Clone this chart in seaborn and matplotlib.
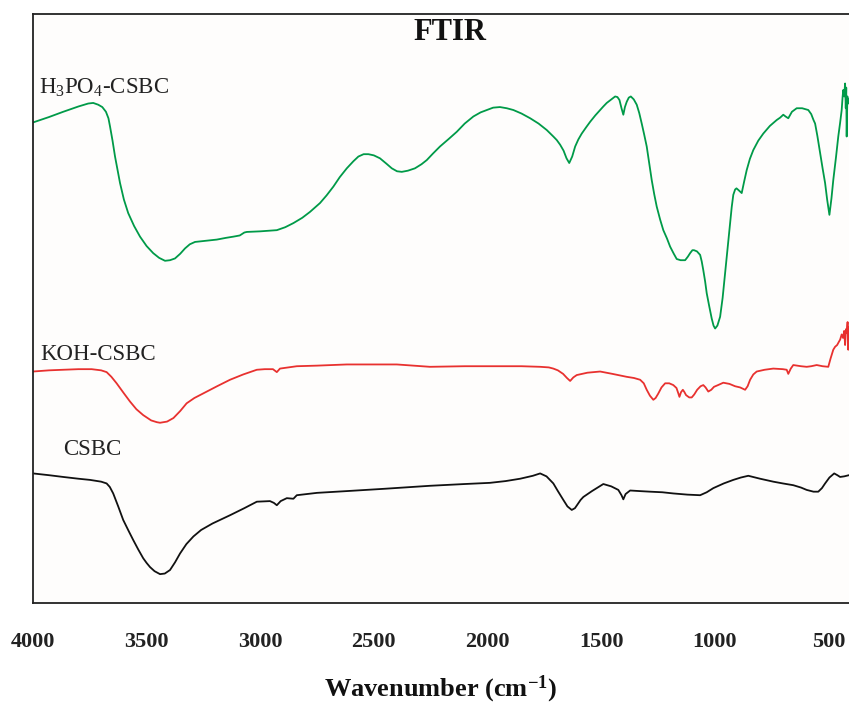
import numpy as np
import pandas as pd
import seaborn as sns
import matplotlib.pyplot as plt

# ---- FTIR spectra (transmittance, arbitrary units, curves offset vertically) ----
h3po4_wn = [3999, 3930, 3867, 3800, 3757, 3735, 3713, 3695, 3679, 3668, 3661, 3650,
            3639, 3617, 3600, 3581, 3555, 3529, 3500, 3471, 3445, 3419, 3397, 3375,
            3352, 3331, 3310, 3287, 3240, 3191, 3150, 3118, 3090, 3070, 3059, 3000,
            2927, 2890, 2854, 2815, 2781, 2737, 2708, 2678, 2650, 2619, 2590, 2568,
            2545, 2524, 2500, 2473, 2445, 2421, 2398, 2377, 2350, 2319, 2290, 2267,
            2240, 2209, 2170, 2135, 2100, 2062, 2030, 2003, 1975, 1945, 1915, 1886,
            1850, 1812, 1775, 1739, 1710, 1695, 1680, 1665, 1652, 1640, 1627, 1614,
            1600, 1585, 1565, 1548, 1525, 1504, 1490, 1475, 1455, 1438, 1428, 1419,
            1410, 1402, 1395, 1387, 1378, 1369, 1356, 1343, 1332, 1321, 1310, 1299,
            1288, 1277, 1266, 1255, 1240, 1226, 1210, 1196, 1180, 1167, 1150, 1130,
            1118, 1108, 1098, 1091, 1078, 1064, 1057, 1050, 1042, 1035, 1024, 1013,
            1005, 998, 988, 976, 965, 954, 943, 932, 925, 918, 910, 904, 895, 881,
            870, 859, 845, 830, 808, 786, 757, 727, 712, 698, 688, 676, 660, 639,
            615, 588, 575, 565, 558, 548, 536, 525, 514, 505, 495, 486, 478, 466,
            456, 448, 441, 437, 434, 430, 426, 423, 421, 419, 416, 412, 409]
h3po4_t = [81.6, 82.5, 83.4, 84.3, 84.8, 84.9, 84.6, 84.2, 83.4, 82.3, 80.9, 78.5,
           75.8, 71.3, 68.5, 66.2, 64.0, 62.2, 60.6, 59.4, 58.6, 58.1, 58.2, 58.5,
           59.3, 60.2, 60.9, 61.3, 61.5, 61.7, 62.0, 62.2, 62.4, 62.9, 63.0, 63.1,
           63.3, 63.8, 64.5, 65.4, 66.4, 67.9, 69.2, 70.7, 72.3, 73.8, 75.0, 75.8,
           76.2, 76.2, 76.0, 75.5, 74.6, 73.8, 73.3, 73.2, 73.4, 73.8, 74.5, 75.2,
           76.3, 77.5, 78.8, 80.0, 81.4, 82.6, 83.3, 83.7, 84.1, 84.2, 84.0, 83.7,
           83.1, 82.3, 81.4, 80.3, 79.2, 78.6, 77.8, 76.8, 75.5, 74.7, 75.8, 77.5,
           78.7, 79.7, 80.8, 81.7, 82.8, 83.7, 84.3, 84.9, 85.5, 86.0, 85.9, 85.4,
           84.0, 82.9, 84.2, 85.1, 85.8, 86.0, 85.5, 84.6, 83.2, 81.4, 79.5, 77.5,
           74.7, 71.8, 69.4, 67.3, 65.1, 63.3, 61.9, 60.5, 59.3, 58.4, 58.2, 58.2,
           58.8, 59.4, 59.9, 59.9, 59.7, 59.1, 58.0, 56.5, 54.6, 52.6, 50.4, 48.3,
           47.1, 46.6, 47.1, 48.6, 51.8, 56.0, 60.3, 64.5, 67.2, 69.3, 70.2, 70.4, 70.1, 69.6,
           71.6, 73.5, 75.4, 76.9, 78.5, 79.7, 81.0, 82.0, 82.4, 82.9, 82.6, 82.3, 83.4, 84.0,
           84.0, 83.7, 83.0, 82.0, 81.4, 79.3, 76.4, 73.8, 71.3, 68.5, 65.9, 68.7, 71.8, 75.7,
           79.2, 81.5, 83.7, 85.9, 87.1, 86.0, 88.2, 84.0, 87.5, 79.2, 86.0, 84.8, 85.5]

koh_wn = [4000, 3930, 3867, 3800, 3742, 3700, 3676, 3655, 3632, 3600, 3573, 3545,
          3515, 3480, 3455, 3441, 3410, 3382, 3352, 3324, 3290, 3250, 3190, 3133,
          3075, 3015, 2980, 2944, 2927, 2913, 2839, 2750, 2619, 2500, 2399, 2253,
          2100, 1989, 1850, 1768, 1730, 1710, 1690, 1667, 1650, 1636, 1622, 1607,
          1560, 1504, 1450, 1387, 1355, 1328, 1312, 1299, 1285, 1270, 1260, 1249,
          1234, 1218, 1200, 1182, 1168, 1160, 1155, 1148, 1140, 1133, 1126, 1112,
          1101, 1090, 1077, 1062, 1050, 1040, 1028, 1015, 1003, 985, 962, 935, 910,
          888, 866, 855, 844, 830, 815, 780, 742, 700, 683, 676, 665, 654, 620, 595,
          575, 551, 525, 500, 490, 478, 470, 461, 454, 448, 441, 435, 430, 426, 422,
          419, 415, 412, 409]
koh_t = [39.3, 39.5, 39.6, 39.7, 39.7, 39.5, 39.2, 38.4, 37.3, 35.6, 34.2, 32.9,
         31.9, 31.0, 30.7, 30.6, 30.8, 31.4, 32.6, 33.9, 34.8, 35.6, 36.8, 37.9,
         38.8, 39.6, 39.7, 39.7, 39.2, 39.8, 40.2, 40.3, 40.5, 40.5, 40.5, 40.1,
         40.2, 40.2, 40.2, 40.1, 40.0, 39.8, 39.5, 38.9, 38.2, 37.7, 38.3, 38.7,
         39.1, 39.3, 38.9, 38.4, 38.2, 37.9, 37.3, 36.2, 35.2, 34.5, 34.8, 35.5,
         36.6, 37.3, 37.3, 37.0, 36.5, 35.6, 35.0, 35.8, 36.2, 35.8, 35.3, 34.9,
         34.9, 35.4, 36.2, 36.8, 37.0, 36.6, 35.9, 36.2, 36.7, 37.0, 37.4, 37.2, 36.8,
         36.6, 36.2, 36.8, 37.9, 38.8, 39.3, 39.6, 39.8, 39.7, 39.6, 38.9, 39.8, 40.4, 40.2, 40.1,
         40.2, 40.4, 40.2, 40.1, 41.5, 43.0, 43.5, 43.8, 44.3, 44.7, 45.6, 45.0, 46.2, 43.8, 46.5,
         45.8, 47.7, 43.0, 46.9]

csbc_wn = [4000, 3930, 3867, 3800, 3749, 3700, 3676, 3662, 3647, 3625, 3603, 3580,
           3559, 3537, 3515, 3500, 3485, 3465, 3441, 3420, 3397, 3375, 3353, 3325,
           3294, 3260, 3210, 3133, 3070, 3015, 2957, 2940, 2927, 2910, 2883, 2854,
           2839, 2750, 2619, 2450, 2253, 2100, 1989, 1920, 1856, 1800, 1768, 1740,
           1710, 1690, 1666, 1648, 1629, 1615, 1606, 1590, 1578, 1540, 1490, 1455,
           1424, 1410, 1402, 1392, 1372, 1330, 1284, 1230, 1182, 1120, 1064, 1035,
           1006, 960, 918, 885, 852, 800, 742, 700, 654, 620, 595, 565, 544, 528,
           514, 495, 474, 460, 448, 430, 409]
csbc_t = [22.0, 21.7, 21.4, 21.1, 20.9, 20.6, 20.3, 19.7, 18.6, 16.4, 14.1, 12.3,
          10.7, 9.1, 7.6, 6.8, 6.1, 5.4, 4.9, 5.0, 5.6, 6.9, 8.4, 10.0,
          11.3, 12.4, 13.5, 14.9, 16.1, 17.2, 17.3, 17.0, 16.6, 17.3, 17.8, 17.7,
          18.3, 18.7, 19.0, 19.4, 19.9, 20.2, 20.4, 20.7, 21.1, 21.6, 22.0, 21.5,
          20.3, 19.0, 17.5, 16.4, 15.8, 16.1, 16.6, 17.5, 18.0, 19.0, 20.2, 19.8,
          19.2, 18.3, 17.6, 18.5, 19.1, 19.0, 18.9, 18.8, 18.6, 18.4, 18.3, 18.8,
          19.5, 20.3, 20.9, 21.3, 21.6, 21.1, 20.6, 20.3, 20.0, 19.6, 19.2, 18.9, 18.9, 19.5,
          20.3, 21.3, 22.0, 21.7, 21.4, 21.5, 21.7]

series_names = ["H$_3$PO$_4$-CSBC", "KOH-CSBC", "CSBC"]
series_colors = ["#009a48", "#e8312f", "#111111"]
x_ticks = [4000, 3500, 3000, 2500, 2000, 1500, 1000, 500]

sns.set_style("white")
plt.rcParams['font.family'] = ['Liberation Serif', 'DejaVu Serif']
plt.rcParams['mathtext.fontset'] = 'custom'
plt.rcParams['mathtext.rm'] = 'Liberation Serif'
plt.rcParams['mathtext.it'] = 'Liberation Serif:italic'
plt.rcParams['mathtext.bf'] = 'Liberation Serif:bold'

fig = plt.figure(figsize=(8.49, 7.04), dpi=100)
ax = fig.add_axes([33 / 849, 101 / 704, 818 / 849, 589 / 704])
ax.set_facecolor("#fefdfc")

spectra = [(h3po4_wn, h3po4_t), (koh_wn, koh_t), (csbc_wn, csbc_t)]
for (wn, t), color in zip(spectra, series_colors):
    df = pd.DataFrame({"wavenumber": wn, "transmittance": t})
    sns.lineplot(data=df, x="wavenumber", y="transmittance", ax=ax,
                 color=color, linewidth=1.3, estimator=None, sort=False)

ax.set_xlim(4000, 400)
ax.set_ylim(0, 100)
ax.set_xticks(x_ticks)
ax.set_xticklabels([str(v) for v in x_ticks], fontweight="bold")
ax.set_yticks([])
ax.set_xlabel("")
ax.set_ylabel("")
ax.tick_params(axis="x", direction="out", length=7, width=1.2, pad=14,
               labelsize=16, colors="#222222")
for side in ["left", "bottom", "top"]:
    ax.spines[side].set_linewidth(1.3)
    ax.spines[side].set_color("#222222")
ax.spines["right"].set_visible(False)

# curve labels
label_pos = [(3972, 86.5), (3969, 41.3), (3867, 25.1)]
for name, (lx, ly) in zip(series_names, label_pos):
    ax.text(lx, ly, name, fontsize=16.5, color="#222222", ha="left", va="baseline")

fig.text(450 / 849, 1 - 32.5 / 704, "FTIR", fontsize=22, fontweight="bold",
         ha="center", va="center", color="#111111")
fig.text(441 / 849, 8 / 704, r"Wavenumber (cm$^{\mathbf{-1}}$)", fontsize=19,
         fontweight="bold", ha="center", va="baseline", color="#111111")

fig.savefig("out.png", dpi=100, facecolor="white")
